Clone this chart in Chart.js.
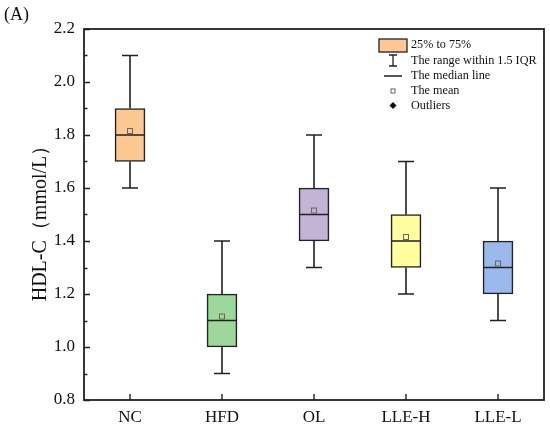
<!DOCTYPE html>
<html>
<head>
<meta charset="utf-8">
<script src="https://cdn.jsdelivr.net/npm/chart.js@4"></script>
<style>
  html, body { margin: 0; padding: 0; background: #fff; }
  #wrap { width: 550px; height: 426px; }
</style>
</head>
<body>
<div id="wrap"><canvas id="bChart"></canvas></div>
<script>
const groups = ['NC', 'HFD', 'OL', 'LLE-H', 'LLE-L'];
const mins = [1.6, 0.9, 1.3, 1.2, 1.1];
const q1s = [1.7, 1.0, 1.4, 1.3, 1.2];
const medians = [1.8, 1.1, 1.5, 1.4, 1.3];
const q3s = [1.9, 1.2, 1.6, 1.5, 1.4];
const maxs = [2.1, 1.4, 1.8, 1.7, 1.6];
const means = [1.815, 1.115, 1.515, 1.415, 1.315];
const yTicks = [0.8, 1.0, 1.2, 1.4, 1.6, 1.8, 2.0, 2.2];

const fills = ['#FCC894', '#9DD89A', '#C2B3D7', '#FFFF9F', '#9CB9EE'];
const ink = '#222';
const serif = '"Liberation Serif", "Times New Roman", serif';

const boxExtras = {
    id: 'boxExtras',
    afterDatasetsDraw(chart) {
        const c = chart.ctx;
        const xs = chart.scales.x;
        const ys = chart.scales.y;
        const a = chart.chartArea;
        c.save();
        c.strokeStyle = ink;
        c.lineWidth = 1.6;

        groups.forEach((g, i) => {
            const x = xs.getPixelForValue(i);
            const cap = 8;
            c.beginPath();
            c.moveTo(x, ys.getPixelForValue(q3s[i]));
            c.lineTo(x, ys.getPixelForValue(maxs[i]));
            c.moveTo(x, ys.getPixelForValue(q1s[i]));
            c.lineTo(x, ys.getPixelForValue(mins[i]));
            c.moveTo(x - cap, ys.getPixelForValue(maxs[i]));
            c.lineTo(x + cap, ys.getPixelForValue(maxs[i]));
            c.moveTo(x - cap, ys.getPixelForValue(mins[i]));
            c.lineTo(x + cap, ys.getPixelForValue(mins[i]));
            c.moveTo(x - 15, ys.getPixelForValue(medians[i]));
            c.lineTo(x + 15, ys.getPixelForValue(medians[i]));
            c.stroke();

            // mean marker
            const my = ys.getPixelForValue(means[i]);
            c.save();
            c.strokeStyle = '#6b6460';
            c.lineWidth = 1;
            c.strokeRect(x - 2.5, my - 2.5, 5, 5);
            c.restore();
        });

        // frame
        c.lineWidth = 1.8;
        c.strokeStyle = ink;
        c.strokeRect(a.left, a.top, a.right - a.left, a.bottom - a.top);

        // inward ticks
        c.lineWidth = 1.4;
        c.beginPath();
        for (let v = 0.8; v <= 2.2001; v += 0.1) {
            const y = Math.round(ys.getPixelForValue(v)) + 0.5;
            const major = Math.round(v * 10) % 2 === 0;
            c.moveTo(a.left, y);
            c.lineTo(a.left + (major ? 6 : 3.5), y);
        }
        groups.forEach((g, i) => {
            const x = xs.getPixelForValue(i);
            c.moveTo(x, a.bottom);
            c.lineTo(x, a.bottom - 6);
        });
        c.stroke();

        // legend
        const lx = 379, tx = 411;
        c.fillStyle = fills[0];
        c.fillRect(lx, 39, 28, 13);
        c.lineWidth = 1.3;
        c.strokeRect(lx, 39, 28, 13);
        c.beginPath();
        c.moveTo(lx + 14, 55); c.lineTo(lx + 14, 66);
        c.moveTo(lx + 10, 55); c.lineTo(lx + 18, 55);
        c.moveTo(lx + 10, 66); c.lineTo(lx + 18, 66);
        c.moveTo(lx + 5, 76); c.lineTo(lx + 23, 76);
        c.stroke();
        c.save();
        c.strokeStyle = '#6b6460';
        c.lineWidth = 1;
        c.strokeRect(lx + 12, 89, 4, 4);
        c.restore();
        c.fillStyle = '#111';
        c.beginPath();
        c.moveTo(lx + 14, 102); c.lineTo(lx + 17.5, 105.5);
        c.lineTo(lx + 14, 109); c.lineTo(lx + 10.5, 105.5);
        c.closePath();
        c.fill();

        c.font = '12.2px ' + serif;
        c.textBaseline = 'middle';
        c.textAlign = 'left';
        c.fillStyle = '#111';
        c.fillText('25% to 75%', tx, 45);
        c.fillText('The range within 1.5 IQR', tx, 61);
        c.fillText('The median line', tx, 76);
        c.fillText('The mean', tx, 91);
        c.fillText('Outliers', tx, 106);

        // panel label
        c.font = '18px ' + serif;
        c.fillText('(A)', 4, 15);

        // y title
        c.translate(41, (a.top + a.bottom) / 2 + 4);
        c.rotate(-Math.PI / 2);
        c.textAlign = 'center';
        c.font = '20px ' + serif;
        c.fillText('HDL-C\uFF08mmol/L\uFF09', 0, 0);
        c.restore();
    }
};

const ct = document.getElementById('bChart').getContext('2d');

const bChart = new Chart(ct, {
    type: 'bar',
    data: {
        labels: groups,
        datasets: [{
            label: '25% to 75%',
            data: q1s.map((v, i) => [v, q3s[i]]),
            backgroundColor: fills,
            borderColor: ink,
            borderWidth: 1.6,
            borderSkipped: false,
            barThickness: 30
        }]
    },
    options: {
        responsive: true,
        maintainAspectRatio: false,
        animation: false,
        layout: { padding: { top: 29, right: 6, left: 0, bottom: 0 } },
        plugins: {
            legend: { display: false },
            tooltip: { enabled: false }
        },
        scales: {
            x: {
                grid: { display: false, drawTicks: false },
                border: { display: false },
                ticks: { font: { family: serif, size: 17 }, color: '#111', padding: 7 },
                afterFit: (s) => { s.height = 26; }
            },
            y: {
                min: 0.8,
                max: 2.2,
                afterBuildTicks: (s) => { s.ticks = yTicks.map(v => ({ value: v })); },
                grid: { display: false, drawTicks: false },
                border: { display: false },
                ticks: {
                    font: { family: serif, size: 17 },
                    color: '#111',
                    padding: 9,
                    callback: (v) => Number(v).toFixed(1)
                },
                afterFit: (s) => { s.width = 84; }
            }
        }
    },
    plugins: [boxExtras]
});
</script>
</body>
</html>
